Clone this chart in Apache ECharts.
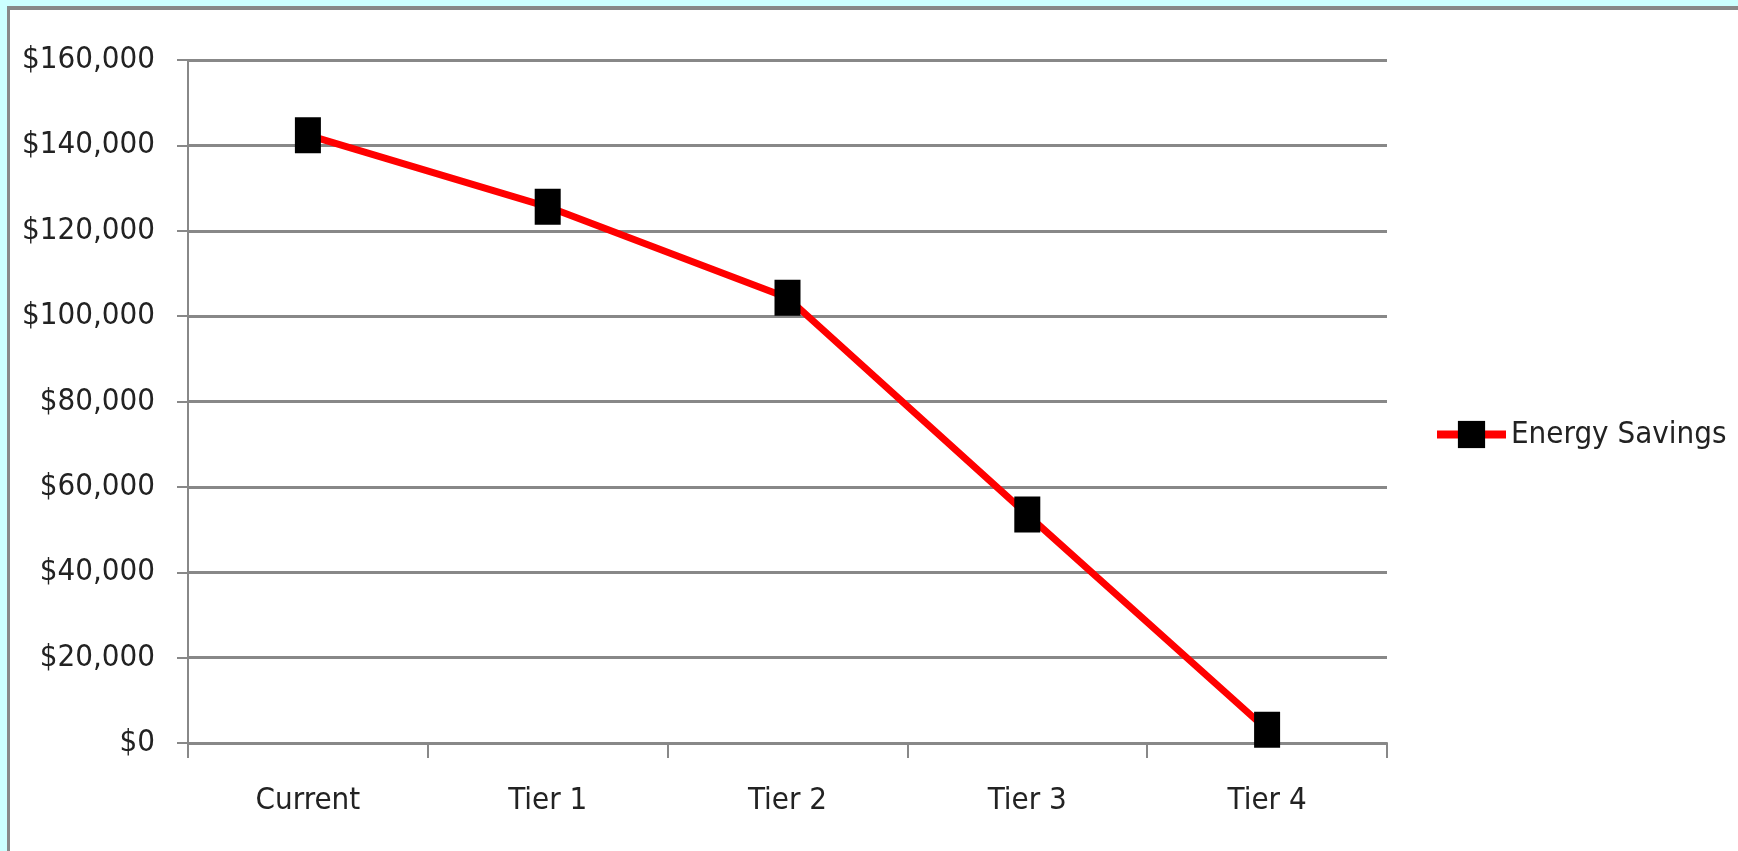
<!DOCTYPE html>
<html>
<head>
<meta charset="utf-8">
<script src="https://cdn.jsdelivr.net/npm/echarts@6/dist/echarts.min.js"></script>
<style>
  html, body { margin: 0; padding: 0; background: #ccffff; width: 1738px; height: 851px; overflow: hidden; }
  #frame { position: absolute; left: 7px; top: 6px; width: 1731px; height: 845px; background: #fff;
           border-left: 3px solid #888; border-top: 4px solid #888; box-sizing: border-box; }
  #chart { position: absolute; left: 0; top: 0; width: 1738px; height: 851px; }
</style>
</head>
<body>
<div id="frame"></div>
<div id="chart"></div>
<script>
const categories = ['Current', 'Tier 1', 'Tier 2', 'Tier 3', 'Tier 4'];
const energySavings = [142400, 125600, 104300, 53500, 3100];
const seriesName = 'Energy Savings';
const yMin = 0, yMax = 160000, yStep = 20000;

const FONT = '"Liberation Sans Narrow", "DejaVu Sans Condensed", sans-serif';
const FS = 31;
const chart = echarts.init(document.getElementById('chart'), null, { renderer: 'canvas' });
chart.setOption({
  animation: false,
  backgroundColor: 'transparent',
  grid: { left: 188, top: 60, width: 1199, height: 683, containLabel: false, outerBoundsMode: 'none' },
  legend: {
    data: [seriesName],
    left: 1428, top: 414,
    itemWidth: 69, itemHeight: 34,
    itemGap: 5,
    lineStyle: { width: 8, color: '#ff0000' },
    textStyle: { fontFamily: FONT, fontSize: FS, color: '#222' }
  },
  xAxis: {
    type: 'category',
    data: categories,
    boundaryGap: true,
    axisLine: { show: true, lineStyle: { color: '#888', width: 2 } },
    axisTick: { show: true, length: 15, alignWithLabel: false, lineStyle: { color: '#888', width: 2 } },
    axisLabel: { fontFamily: FONT, fontSize: FS, color: '#222', margin: 42 },
    splitLine: { show: false }
  },
  yAxis: {
    type: 'value',
    min: yMin, max: yMax, interval: yStep,
    axisLine: { show: true, lineStyle: { color: '#888', width: 2 } },
    axisTick: { show: true, length: 11, lineStyle: { color: '#888', width: 2 } },
    axisLabel: {
      fontFamily: FONT, fontSize: FS, color: '#222', margin: 33,
      formatter: v => '$' + v.toLocaleString('en-US')
    },
    splitLine: { show: true, lineStyle: { color: '#888', width: 3 } }
  },
  series: [{
    name: seriesName,
    type: 'line',
    data: energySavings,
    symbol: 'rect',
    symbolSize: [26, 36],
    itemStyle: { color: '#000' },
    lineStyle: { color: '#ff0000', width: 7 },
    z: 3
  }]
});
</script>
</body>
</html>
